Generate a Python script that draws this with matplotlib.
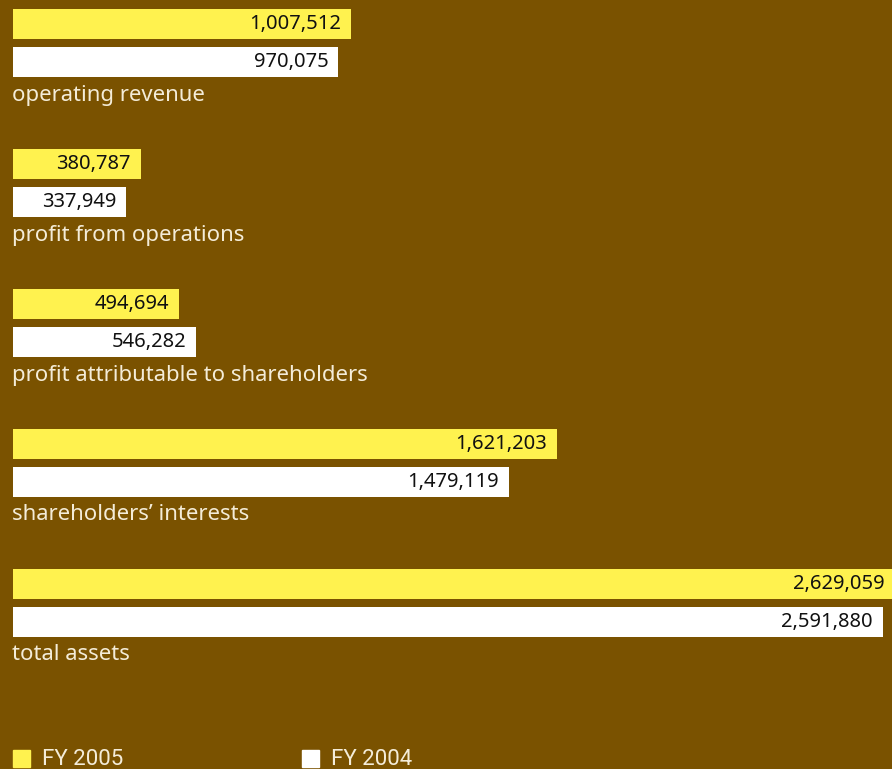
import matplotlib.pyplot as plt
from matplotlib.patches import Rectangle

categories = ["operating revenue", "profit from operations",
              "profit attributable to shareholders", "shareholders\u2019 interests",
              "total assets"]
fy2005 = [1007512, 380787, 494694, 1621203, 2629059]
fy2004 = [970075, 337949, 546282, 1479119, 2591880]
series_names = ["FY 2005", "FY 2004"]

BG = "#7a5200"
YELLOW = "#fff24f"
WHITE = "#ffffff"

W, H = 892, 769
fig = plt.figure(figsize=(W / 100, H / 100), dpi=100, facecolor=BG)

# axis spans from the bar start to the right edge, y in pixel rows
left = 13
ax = fig.add_axes([left / W, 0, (W - left) / W, 1])
ax.set_facecolor(BG)
ax.set_xlim(0, (W - left) / 3.355e-4)
ax.set_ylim(H, 0)
ax.axis("off")

step = 140
bar_h = 30
for i, (cat, a, b) in enumerate(zip(categories, fy2005, fy2004)):
    y1 = 24 + step * i
    y2 = 61.5 + step * i
    ax.barh(y1, a, height=bar_h, color=YELLOW, left=0)
    ax.barh(y2, b, height=bar_h, color=WHITE, left=0)
    for y, v in ((y1, a), (y2, b)):
        ax.annotate(f"{v:,}", xy=(v, y), xytext=(-10, 0),
                    textcoords="offset pixels", annotation_clip=False,
                    ha="right", va="center", fontsize=14.5,
                    family="Noto Sans", color="#111111")
    ax.annotate(cat, xy=(0, 95 + step * i), xytext=(-1, 0),
                textcoords="offset pixels", ha="left", va="center",
                fontsize=15.9, family="Noto Sans", color="#f4ecd8")

# legend at the bottom
for x0, col, name in ((13, YELLOW, series_names[0]), (302, WHITE, series_names[1])):
    fig.patches.append(Rectangle((x0 / W, (H - 767) / H), 17 / W, 17 / H,
                                 transform=fig.transFigure, color=col))
    fig.text((x0 + 29) / W, (H - 765) / H, name, ha="left", va="baseline",
             fontsize=16, family="Roboto", color="#f4ecd8")

fig.savefig("out.png", dpi=100, facecolor=BG)
